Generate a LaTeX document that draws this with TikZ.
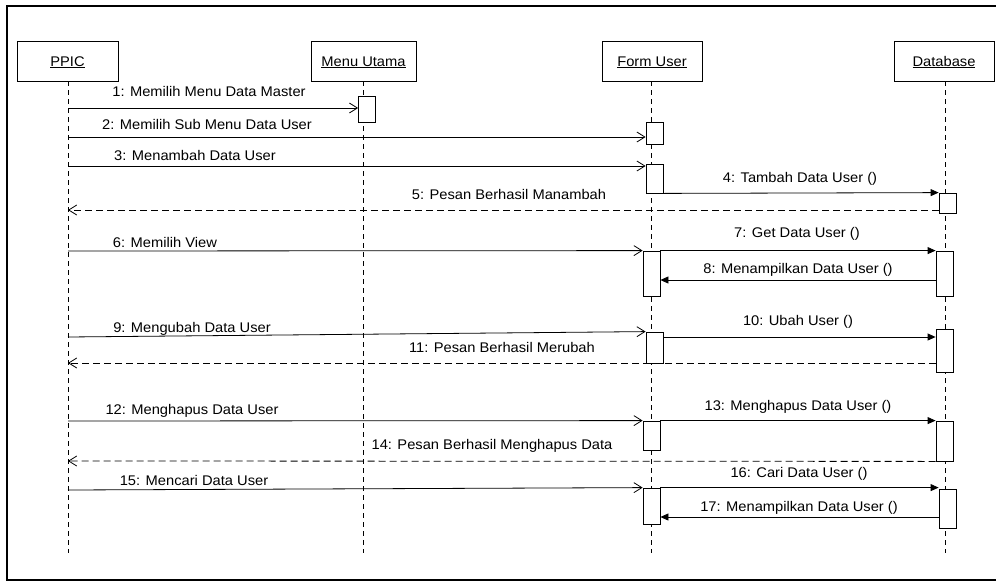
\documentclass[tikz,border=0pt]{standalone}
\usepackage{fontspec}
\setmainfont{Liberation Sans}[FakeStretch=1.05]
\usetikzlibrary{arrows.meta}
\begin{document}
\begin{tikzpicture}[x=1pt,y=-1pt,
  font=\fontsize{14}{16}\selectfont,
  lifehead/.style={draw, line width=0.8pt, minimum height=40pt, inner sep=0pt,
    text height=10pt, text depth=0pt},
  lifeline/.style={line width=0.8pt, dash pattern=on 5pt off 4pt},
  act/.style={draw, fill=white, line width=0.8pt, minimum width=17pt, inner sep=0pt},
  call/.style={line width=0.8pt, -{Straight Barb[length=8pt,width=10pt]}},
  sync/.style={line width=0.8pt, -{Triangle[length=8pt,width=7pt]}},
  reply/.style={line width=0.8pt, dash pattern=on 7pt off 4pt,
    -{Straight Barb[length=8pt,width=10pt]}},
  lbl/.style={anchor=base, inner sep=0pt}]
\useasboundingbox (0,0) rectangle (996,581);

% outer frame (right side runs past the page edge)
\draw[line width=1.8pt] (1000,6) -- (7,6) -- (7,580) -- (1000,580);

% lifeline heads
\node[lifehead, minimum width=101pt] (ppic) at (67.5,61) {\underline{PPIC}};
\node[lifehead, minimum width=105pt] (menu) at (363.5,61) {\underline{Menu Utama}};
\node[lifehead, minimum width=100pt] (form) at (652,61) {\underline{Form User}};
\node[lifehead, minimum width=100pt] (db)   at (944,61) {\underline{Database}};

% lifelines
\coordinate (ppicEnd) at (68,553);
\coordinate (menuEnd) at (363,553);
\coordinate (formEnd) at (651,553);
\coordinate (dbEnd)   at (945,553);
\draw[lifeline] (ppic.south -| ppicEnd) -- (ppicEnd);
\draw[lifeline] (menu.south -| menuEnd) -- (menuEnd);
\draw[lifeline] (form.south -| formEnd) -- (formEnd);
\draw[lifeline] (db.south -| dbEnd) -- (dbEnd);

% activation bars
\node[act, minimum height=26pt] (a1)  at (367,109) {};
\node[act, minimum height=22pt] (a2)  at (654.5,133) {};
\node[act, minimum height=29pt] (a3)  at (654.5,178.5) {};
\node[act, minimum height=20pt] (a4)  at (947.5,203) {};
\node[act, minimum height=45pt] (a5)  at (651.5,273.5) {};
\node[act, minimum height=45pt] (a6)  at (944.5,273.5) {};
\node[act, minimum height=31pt] (a7)  at (654.5,347.5) {};
\node[act, minimum height=43pt] (a8)  at (944.5,350.5) {};
\node[act, minimum height=29pt] (a9)  at (651.5,435.5) {};
\node[act, minimum height=40pt] (a10) at (944.5,441) {};
\node[act, minimum height=36pt] (a11) at (651.5,506) {};
\node[act, minimum height=39pt] (a12) at (947.5,508.5) {};

% messages
\draw[call]  (ppicEnd |- 0,108) -- (a1.west |- 0,108);
\draw[call]  (ppicEnd |- 0,137) -- (a2.west |- 0,137);
\draw[call]  (ppicEnd |- 0,166) -- (a3.west |- 0,166);
\draw[sync]  (a3.south east) -- (a4.north west);
\draw[reply] (a4.west |- 0,210) -- (ppicEnd |- 0,210);
\draw[call]  (ppicEnd |- 0,251) -- (a5.north west);
\draw[sync]  (a5.north east) -- (a6.north west);
\draw[sync]  (a6.west |- 0,280) -- (a5.east |- 0,280);
\draw[call]  (ppicEnd |- 0,337) -- (a7.north west);
\draw[sync]  (a7.east |- 0,337) -- (a8.west |- 0,337);
\draw[reply] (a8.west |- 0,363) -- (ppicEnd |- 0,363);
\draw[call]  (ppicEnd |- 0,421) -- (a9.north west);
\draw[sync]  (a9.north east) -- (a10.north west);
\draw[reply] (a10.south west) -- (ppicEnd |- 0,461);
\draw[call]  (ppicEnd |- 0,490) -- (a11.north west);
\draw[sync]  (a11.north east) -- (a12.west |- a11.north);
\draw[sync]  (a12.west |- 0,517) -- (a11.east |- 0,517);

% message labels
\node[lbl] (t1)  at (209,96)  {1: Memilih Menu Data Master};
\node[lbl] (t2)  at (207,129) {2: Memilih Sub Menu Data User};
\node[lbl] (t3)  at (195,160) {3: Menambah Data User};
\node[lbl] (t4)  at (800,182) {4: Tambah Data User ()};
\node[lbl] (t5)  at (509,199) {5: Pesan Berhasil Manambah};
\node[lbl] (t6)  at (165,247) {6: Memilih View};
\node[lbl] (t7)  at (797,237) {7: Get Data User ()};
\node[lbl] (t8)  at (798,273) {8: Menampilkan Data User ()};
\node[lbl] (t9)  at (192,332) {9: Mengubah Data User};
\node[lbl] (t10) at (798,325) {10: Ubah User ()};
\node[lbl] (t11) at (502,352) {11: Pesan Berhasil Merubah};
\node[lbl] (t12) at (192,414) {12: Menghapus Data User};
\node[lbl] (t13) at (798,410) {13: Menghapus Data User ()};
\node[lbl] (t14) at (492,449) {14: Pesan Berhasil Menghapus Data};
\node[lbl] (t15) at (194,485) {15: Mencari Data User};
\node[lbl] (t16) at (799,477) {16: Cari Data User ()};
\node[lbl] (t17) at (799,511) {17: Menampilkan Data User ()};
\end{tikzpicture}
\end{document}
